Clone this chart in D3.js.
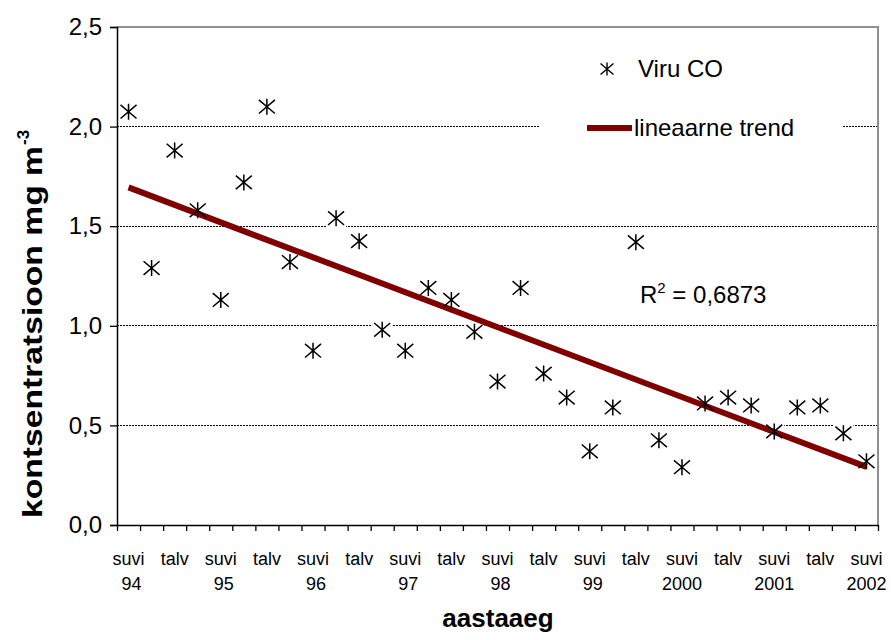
<!DOCTYPE html>
<html>
<head>
<meta charset="utf-8">
<script src="https://cdn.jsdelivr.net/npm/d3@7"></script>
<style>
  html, body { margin: 0; padding: 0; background: #fff; }
  svg { display: block; font-family: Arial, "Liberation Sans", sans-serif; }
</style>
</head>
<body>
<svg id="chart" width="891" height="640"></svg>
<script>
// ---- data ----
const seasons = ["suvi","","talv","","suvi","","talv","","suvi","","talv","","suvi","","talv","","suvi","","talv","","suvi","","talv","","suvi","","talv","","suvi","","talv","","suvi"];
const years   = ["94","","","","95","","","","96","","","","97","","","","98","","","","99","","","","2000","","","","2001","","","","2002"];
const values  = [2.075,1.29,1.88,1.58,1.13,1.72,2.10,1.32,0.875,1.54,1.425,0.98,0.875,1.19,1.13,0.97,0.72,1.19,0.76,0.64,0.37,0.59,1.42,0.425,0.29,0.61,0.64,0.60,0.47,0.59,0.60,0.46,0.32];
const yTicks  = [0, 0.5, 1.0, 1.5, 2.0, 2.5];
const seriesName = "Viru CO";
const trendName  = "lineaarne trend";
const r2Text     = "0,6873";
const yTitle = "kontsentratsioon mg m";
const yTitleSup = "-3";
const xTitle = "aastaaeg";

// ---- layout ----
const L = 117, R = 878, T = 27, B = 525;
const svg = d3.select("#chart");
const idx = d3.range(values.length);
const x = d3.scaleBand().domain(idx).range([L, R]).paddingInner(0).paddingOuter(0);
const y = d3.scaleLinear().domain([0, 2.5]).range([B, T]);
const cx = i => x(i) + x.bandwidth() / 2;
const fmt = v => d3.format(".1f")(v).replace(".", ",");

// gridlines
svg.append("g").selectAll("line").data(yTicks.filter(v => v > 0 && v < 2.5)).join("line")
  .attr("x1", L).attr("x2", R).attr("y1", d => y(d)).attr("y2", d => y(d))
  .attr("stroke", "#000").attr("stroke-width", 1).attr("stroke-dasharray", "2,1").attr("shape-rendering", "crispEdges");

// plot border top/right (gray)
svg.append("path").attr("d", `M${L},${y(2.5)}H${R}V${B}`).attr("fill", "none")
  .attr("stroke", "#909090").attr("stroke-width", 1.5).attr("shape-rendering", "crispEdges");

// legend background
svg.append("rect").attr("x", 540).attr("y", 38).attr("width", 303).attr("height", 120).attr("fill", "#fff");

// white background behind markers
svg.append("g").selectAll("rect").data(idx).join("rect")
  .attr("x", i => cx(i) - 10).attr("y", i => y(values[i]) - 10)
  .attr("width", 20).attr("height", 20).attr("fill", "#fff");

// y axis
const yAxis = d3.axisLeft(y).tickValues(yTicks).tickFormat(fmt).tickSize(7).tickPadding(8);
const gy = svg.append("g").attr("transform", `translate(${L},0)`).call(yAxis);
gy.select(".domain").attr("stroke", "#000").attr("stroke-width", 1.5);
gy.selectAll(".tick line").attr("stroke", "#000").attr("stroke-width", 1.3);
gy.selectAll(".tick text").attr("font-size", 24).attr("font-family", "Arial, 'Liberation Sans', sans-serif").attr("fill", "#000");

// x axis (ticks at category boundaries)
const boundaries = d3.range(values.length + 1);
const xb = d3.scaleLinear().domain([0, values.length]).range([L, R]);
const xAxis = d3.axisBottom(xb).tickValues(boundaries).tickFormat("").tickSize(6).tickSizeOuter(0);
const gx = svg.append("g").attr("transform", `translate(0,${B})`).call(xAxis);
gx.select(".domain").attr("stroke", "#000").attr("stroke-width", 1.5);
gx.selectAll(".tick line").attr("stroke", "#000").attr("stroke-width", 1.3);

// x labels
const xl = svg.append("g").attr("font-size", 18).attr("fill", "#000").attr("text-anchor", "middle");
xl.selectAll("text.s").data(idx.filter(i => seasons[i])).join("text").attr("class", "s")
  .attr("x", i => cx(i)).attr("y", 565).text(i => seasons[i]);
xl.selectAll("text.y").data(idx.filter(i => years[i])).join("text").attr("class", "y")
  .attr("x", i => cx(i) + (years[i].length === 2 ? 3 : 0)).attr("y", 590).text(i => years[i]);

// trend line (least squares)
const xs = idx.map(i => i + 1);
const mx = d3.mean(xs), my = d3.mean(values);
const slope = d3.sum(idx, i => (xs[i] - mx) * (values[i] - my)) / d3.sum(idx, i => (xs[i] - mx) ** 2);
const icpt = my - slope * mx;
const first = 0, last = values.length - 1;
svg.append("line")
  .attr("x1", cx(first)).attr("y1", y(icpt + slope * xs[first]))
  .attr("x2", cx(last)).attr("y2", y(icpt + slope * xs[last]))
  .attr("stroke", "#800000").attr("stroke-width", 6);

// star markers
function star(s) {
  const h = s / 2;
  return `M${-h},${-h * 0.85}L${h},${h * 0.85}M${-h},${h * 0.85}L${h},${-h * 0.85}M0,${-h}L0,${h}`;
}
svg.append("g").selectAll("path").data(idx).join("path")
  .attr("transform", i => `translate(${cx(i)},${y(values[i])})`)
  .attr("d", star(16)).attr("stroke", "#000").attr("stroke-width", 1.5).attr("fill", "none");

// legend
svg.append("path").attr("transform", "translate(607,69)").attr("d", star(13))
  .attr("stroke", "#000").attr("stroke-width", 1.4).attr("fill", "none");
svg.append("text").attr("x", 638).attr("y", 77).attr("font-size", 24).text(seriesName);
svg.append("line").attr("x1", 587).attr("x2", 632).attr("y1", 128).attr("y2", 128)
  .attr("stroke", "#800000").attr("stroke-width", 6);
svg.append("text").attr("x", 634).attr("y", 136).attr("font-size", 24).text(trendName);

// R^2 label
const rt = svg.append("text").attr("x", 640).attr("y", 303).attr("font-size", 24);
rt.append("tspan").text("R");
rt.append("tspan").attr("font-size", 15).attr("dy", -10).text("2");
rt.append("tspan").attr("dy", 10).text(" = " + r2Text);

// axis titles
const yStart = 518, yLen = 372;
svg.append("text").attr("transform", `translate(42,${yStart}) rotate(-90)`)
  .attr("text-anchor", "start").attr("font-size", 28).attr("font-weight", "bold")
  .attr("textLength", yLen).attr("lengthAdjust", "spacingAndGlyphs").text(yTitle);
svg.append("text").attr("transform", `translate(29,${yStart - yLen - 1}) rotate(-90)`)
  .attr("text-anchor", "start").attr("font-size", 17).attr("font-weight", "bold").text(yTitleSup);

svg.append("text").attr("x", 498).attr("y", 627).attr("text-anchor", "middle")
  .attr("font-size", 26).attr("font-weight", "bold").text(xTitle);
</script>
</body>
</html>
